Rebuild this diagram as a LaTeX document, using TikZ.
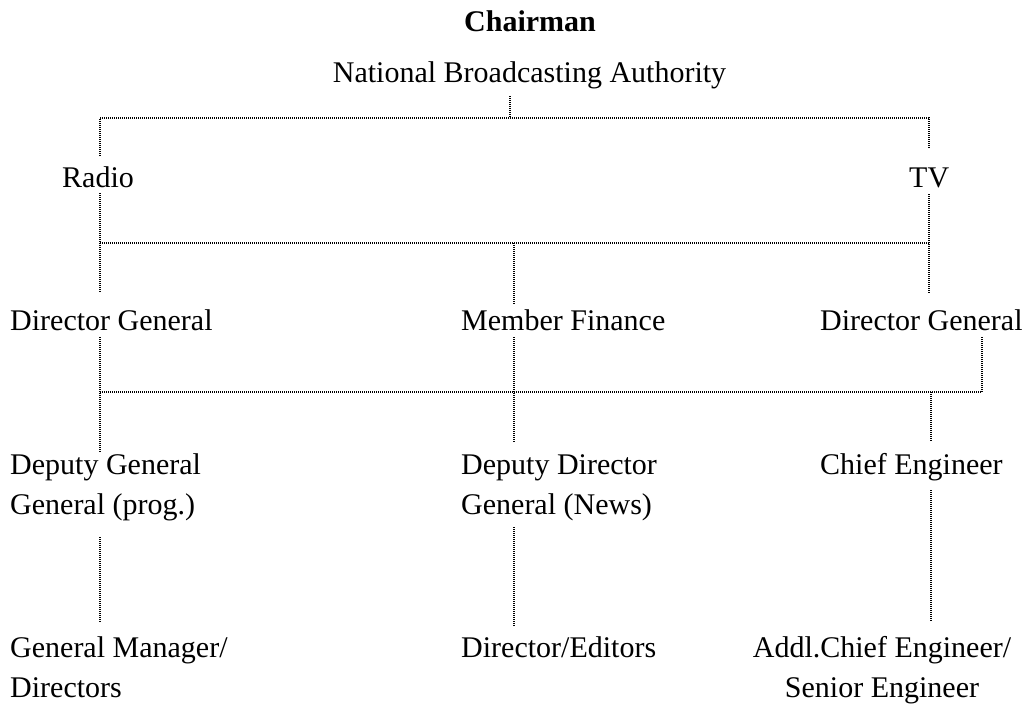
\documentclass[tikz,border=0pt]{standalone}
\usepackage{fontspec}
\setmainfont{Liberation Serif}
\newcommand\lines[2][l]{\begin{tabular}[t]{@{}#1@{}}#2\end{tabular}}
\begin{document}
\begin{tikzpicture}[x=1pt,y=-1pt,
  lbl/.style={inner sep=0pt, anchor=base west, font=\fontsize{30}{40}\selectfont},
  link/.style={line width=1.1pt, dash pattern=on 1pt off 1pt, black}]
\useasboundingbox (0,0) rectangle (1027,704);

% --- titles ---
\node[lbl, anchor=base, font=\fontsize{30}{40}\selectfont\bfseries] (chair) at (530,31) {Chairman};
\node[lbl, anchor=base] (nba) at (529.5,82) {National Broadcasting Authority};

% --- level 2 ---
\node[lbl] (radio) at (62,187) {Radio};
\node[lbl] (tv) at (909,187) {TV};

% --- level 3 ---
\node[lbl] (dgl) at (10,330) {Director General};
\node[lbl] (mf) at (461,330) {Member Finance};
\node[lbl] (dgr) at (820,330) {Director General};

% --- level 4 ---
\node[lbl] (ddgp) at (10,474) {\lines{Deputy General\\General (prog.)}};
\node[lbl] (ddgn) at (461,474) {\lines{Deputy Director\\General (News)}};
\node[lbl] (ce) at (820,474) {Chief Engineer};

% --- level 5 ---
\node[lbl] (gm) at (10,657) {\lines{General Manager/\\Directors}};
\node[lbl] (de) at (461,657) {Director/Editors};
\node[lbl, anchor=base] (ace) at (882,657) {\lines[c]{Addl.Chief Engineer/\\Senior Engineer}};

% --- connector end points ---
\coordinate (nbaF) at (510,96);
\coordinate (busA) at (510,118);
\coordinate (radioH) at (100,156);
\coordinate (tvH) at (929,148);

\coordinate (radioF) at (100,193);
\coordinate (tvF) at (929,194);
\coordinate (busB) at (514,243);
\coordinate (dglH) at (100,293);
\coordinate (dgrH) at (929,293);
\coordinate (mfH) at (514,305);

\coordinate (dglF) at (100,337);
\coordinate (mfF) at (514,337);
\coordinate (dgrF) at (982,337);
\coordinate (busC) at (514,392);
\coordinate (ddgpH) at (100,453);
\coordinate (ddgnH) at (514,442);
\coordinate (ceH) at (931,442);

\coordinate (ddgpF) at (100,537);
\coordinate (gmH) at (100,622);
\coordinate (ddgnF) at (514,527);
\coordinate (deH) at (514,627);
\coordinate (ceF) at (931,490);
\coordinate (aceH) at (931,622);

% --- authority to radio and tv ---
\draw[link] (nbaF) -- (busA);
\draw[link] (radioH) |- (busA) -| (tvH);

% --- radio and tv to the directors general and member finance ---
\draw[link] (radioF) -- (dglH);
\draw[link] (tvF) -- (dgrH);
\draw[link] (radioF |- busB) -- (tvF |- busB);
\draw[link] (busB) -- (mfH);

% --- level 3 to level 4 ---
\draw[link] (dglF) -- (ddgpH);
\draw[link] (mfF) -- (ddgnH);
\draw[link] (dglF |- busC) -| (dgrF);
\draw[link] (ceH |- busC) -- (ceH);

% --- level 4 to level 5 ---
\draw[link] (ddgpF) -- (gmH);
\draw[link] (ddgnF) -- (deH);
\draw[link] (ceF) -- (aceH);
\end{tikzpicture}
\end{document}
